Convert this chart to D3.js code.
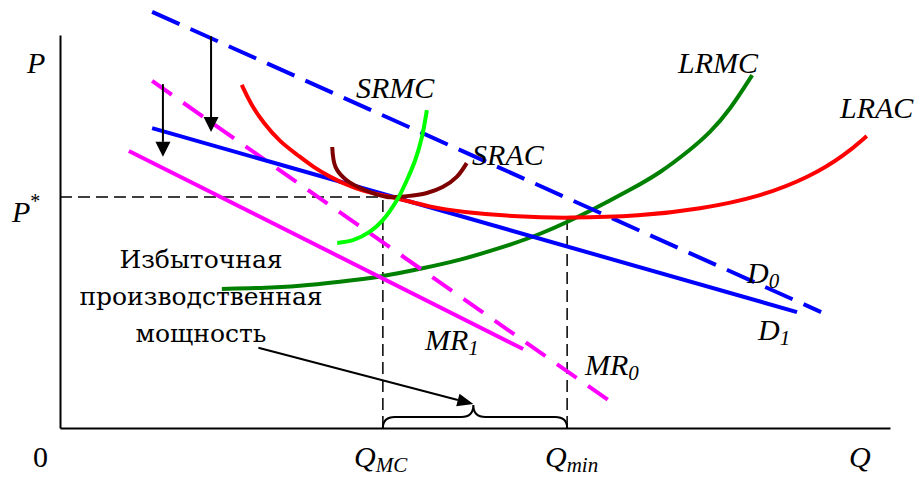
<!DOCTYPE html>
<html><head><meta charset="utf-8">
<script src="https://cdn.jsdelivr.net/npm/d3@7"></script>
<style>html,body{margin:0;padding:0;background:#fff;}</style>
</head><body>
<svg id="c" width="921" height="477"></svg>
<script>
// ---- data (Q, P) ----
const D0 = [[11.1,105.9],[91.7,29.5]];
const D1 = [[11.1,76.3],[88.8,29.5]];
const MR0 = [[11.1,88.3],[66.4,6.6]];
const MR1 = [[8.3,70.5],[55.8,20.1]];
const LRAC = [[21.9,87.3],[22.9,82.7],[24.5,77.6],[26.5,72.8],[28.6,69.5],[30.5,66.4],[32.5,63.9],[34.6,61.8],[36.5,60.3],[38.6,59.3],[40.6,58.5],[44.6,56.2],[48.2,55.0],[55.4,53.7],[61.1,53.4],[69.9,53.9],[77.1,55.7],[84.3,58.8],[90.4,63.9],[94.6,69.5],[97.2,74.3]];
const SRAC = [[32.8,71.5],[33.2,66.4],[34.5,63.1],[37.0,60.3],[39.4,58.8],[41.8,59.0],[44.2,59.8],[46.1,61.3],[47.8,63.9],[49.0,67.4]];
const SRMC = [[33.4,47.1],[35.3,47.8],[37.3,49.9],[38.9,52.9],[40.6,58.0],[41.8,63.1],[42.8,68.2],[43.6,74.0],[44.2,80.9]];
const LRMC = [[19.5,35.4],[24.1,35.6],[28.9,36.1],[33.7,37.2],[38.6,38.4],[43.4,40.5],[48.2,42.7],[53.0,45.8],[57.8,49.1],[64.2,55.5],[68.7,60.6],[72.3,64.9],[75.9,70.7],[78.3,75.1],[80.7,80.9],[83.4,89.8]];
const Pstar = 58.8, QMC = 38.9, Qmin = 61.1, LRACmin = 53.4;
const shiftArrows = [[[18.2,99.7],[18.2,75.3]],[[12.4,87.5],[12.4,69.0]]];
const pointer = [[23.9,20.4],[49.8,6.1]];
const braceTip = 49.8;
const textLines = ["Избыточная","производственная","мощность"];

// ---- scales ----
const xs = d3.scaleLinear().domain([0,100]).range([60,890]);
const ys = d3.scaleLinear().domain([0,100]).range([428,35]);
const svg = d3.select("#c");
const serif = "'Liberation Serif','Times New Roman',serif";
const cyr = "'DejaVu Serif','Liberation Serif',serif";

// axes
svg.append("g").attr("transform",`translate(0,${ys(0)})`)
  .call(d3.axisBottom(xs).ticks(0).tickSizeOuter(0))
  .select(".domain").attr("stroke","#000").attr("stroke-width",2);
svg.append("g").attr("transform",`translate(${xs(0)},0)`)
  .call(d3.axisLeft(ys).ticks(0).tickSizeOuter(0))
  .select(".domain").attr("stroke","#000").attr("stroke-width",2);

// dashed guides
const guide = (a,b)=>svg.append("line").attr("x1",xs(a[0])).attr("y1",ys(a[1])).attr("x2",xs(b[0])).attr("y2",ys(b[1]))
  .attr("stroke","#000").attr("stroke-width",1.5).attr("stroke-dasharray","12,6");
guide([0,Pstar],[QMC,Pstar]);
guide([QMC,0],[QMC,Pstar]);
guide([Qmin,0],[Qmin,LRACmin]);

const lin = d3.line().x(d=>xs(d[0])).y(d=>ys(d[1]));
const cur = d3.line().x(d=>xs(d[0])).y(d=>ys(d[1])).curve(d3.curveCatmullRom.alpha(0.5));
const smooth = d3.line().x(d=>xs(d[0])).y(d=>ys(d[1])).curve(d3.curveBasis);
const draw = (data,gen,color,dash)=>svg.append("path").attr("d",gen(data)).attr("fill","none")
  .attr("stroke",color).attr("stroke-width",4).attr("stroke-dasharray",dash||null);

draw(LRMC,smooth,"#008000");
draw(MR1,lin,"#ff00ff");
draw(MR0,lin,"#ff00ff","24,14");
draw(D0,lin,"#0000ff","30,12");
draw(D1,lin,"#0000ff");
draw(LRAC,smooth,"#ff0000");
draw(SRAC,cur,"#7f0000");
draw(SRMC,cur,"#00ff00");

// arrows
function arrow(a,b,len,hw,lw){
  const x1=xs(a[0]),y1=ys(a[1]),x2=xs(b[0]),y2=ys(b[1]);
  const ang=Math.atan2(y2-y1,x2-x1);
  const bx=x2-len*Math.cos(ang), by=y2-len*Math.sin(ang);
  svg.append("line").attr("x1",x1).attr("y1",y1).attr("x2",bx).attr("y2",by).attr("stroke","#000").attr("stroke-width",lw);
  const px=-Math.sin(ang)*hw, py=Math.cos(ang)*hw;
  svg.append("path").attr("d",`M${x2},${y2}L${bx+px},${by+py}L${bx-px},${by-py}Z`).attr("fill","#000");
}
shiftArrows.forEach(s=>arrow(s[0],s[1],15,7.5,2));
arrow(pointer[0],pointer[1],16,6.5,2);

// brace
{
  const xa=xs(QMC), xb=xs(Qmin), xt=xs(braceTip), yb=ys(0), yh=yb-11, ytip=yb-23, r=12;
  svg.append("path").attr("d",
    `M${xa},${yb}Q${xa},${yh} ${xa+r},${yh}L${xt-r},${yh}Q${xt},${yh} ${xt},${ytip}Q${xt},${yh} ${xt+r},${yh}L${xb-r},${yh}Q${xb},${yh} ${xb},${yb}`)
    .attr("fill","none").attr("stroke","#000").attr("stroke-width",2);
}

// labels
const lab = svg.append("g").attr("font-family",serif).attr("font-size",30).attr("fill","#000");
function label(x,y,main,sub,sup,italic=true){
  const t=lab.append("text").attr("x",x).attr("y",y).attr("font-style",italic?"italic":"normal");
  t.append("tspan").text(main);
  if(sub) t.append("tspan").attr("font-size",21).attr("dy",5).text(sub);
  if(sup) t.append("tspan").attr("font-size",20).attr("dy",-14).attr("font-style","normal").text(sup);
  return t;
}
label(27,73,"P");
label(12,222,"P",null,"*");
label(33,467,"0",null,null,false);
label(354,467,"Q","MC");
label(545,467,"Q","min");
label(849,467,"Q");
label(678,73,"LRMC");
label(840,118,"LRAC");
label(356,98,"SRMC");
label(472,165,"SRAC");
label(747,283,"D","0");
label(758,340,"D","1");
label(585,375,"MR","0");
label(425,350,"MR","1");
textLines.forEach((s,i)=>lab.append("text").attr("x",201).attr("y",268+i*37)
  .attr("text-anchor","middle").attr("font-family",cyr).attr("font-size",25).text(s));
</script>
</body></html>
